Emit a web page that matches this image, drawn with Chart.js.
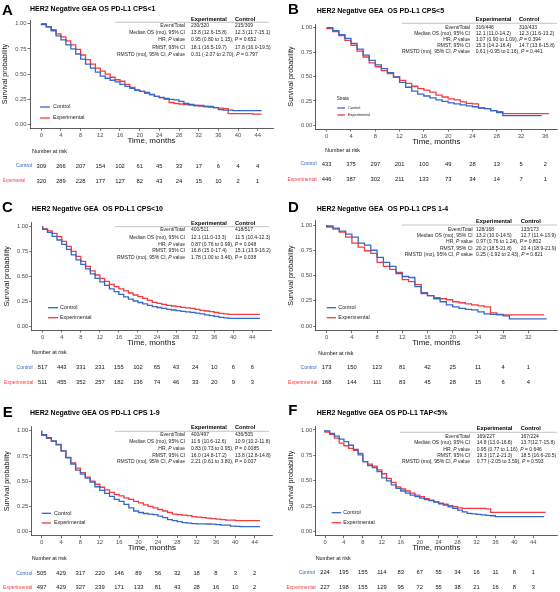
<!DOCTYPE html>
<html>
<head>
<meta charset="utf-8">
<script src="https://cdn.jsdelivr.net/npm/chart.js@4.4.1/dist/chart.umd.min.js"></script>
<style>
  body { margin: 0; background: #fff; width: 560px; height: 592px; position: relative; overflow: hidden; }
  canvas { position: absolute; }
</style>
</head>
<body>
<script>
// ---- data ----
const rowLabels = ['Event/Total', 'Median OS (mo), 95% CI', 'HR, P value', 'RMST, 95% CI', 'RMSTD (mo), 95% CI, P value'];

// A: CPS<1
const titleA = 'HER2 Negative GEA OS PD-L1 CPS<1';
const ticksA = [0, 4, 8, 12, 16, 20, 24, 28, 32, 36, 40, 44];
const survCtrlA = [1.00,0.99,0.97,0.93,0.88,0.84,0.79,0.75,0.70,0.65,0.60,0.56,0.52,0.48,0.46,0.44,0.425,0.40,0.38,0.36,0.34,0.33,0.32,0.30,0.28,0.27,0.26,0.25,0.245,0.23,0.21,0.20,0.19,0.19,0.18,0.18,0.17,0.15,0.145,0.145,0.14,0.14,0.14,0.14,0.14];
const survExpA = [1.00,1.00,0.97,0.94,0.90,0.87,0.83,0.79,0.745,0.69,0.645,0.60,0.56,0.53,0.50,0.47,0.445,0.43,0.40,0.37,0.345,0.33,0.31,0.295,0.28,0.265,0.25,0.22,0.21,0.205,0.20,0.195,0.19,0.185,0.18,0.175,0.17,0.165,0.16,0.11,0.11,0.11,0.11,0.11,0.105];
const endA = [44.8, 44.8];
const riskCtrlA = [309, 266, 207, 154, 102, 61, 45, 33, 17, 6, 4, 4];
const riskExpA = [320, 289, 228, 177, 127, 82, 43, 24, 15, 10, 2, 1];
const statsExpA = ['230/320', '13.8 (12.6-15.8)', '0.95 (0.80 to 1.15), P = 0.652', '18.1 (16.5-19.7)', '0.31 (-2.07 to 2.70), P = 0.797'];
const statsCtrlA = ['215/309', '12.3 (11.7-15.1)', '', '17.8 (16.0-19.5)', ''];

// B: CPS<5
const titleB = 'HER2 Negative GEA  OS PD-L1 CPS<5';
const ticksB = [0, 4, 8, 12, 16, 20, 24, 28, 32, 36];
const survCtrlB = [1.00,1.00,0.97,0.93,0.89,0.84,0.78,0.72,0.665,0.62,0.58,0.54,0.495,0.44,0.39,0.35,0.32,0.30,0.28,0.26,0.245,0.23,0.22,0.21,0.20,0.19,0.175,0.17,0.15,0.13,0.10,0.10,0.10,0.10,0.10,0.10];
const survExpB = [1.00,0.99,0.96,0.92,0.87,0.82,0.76,0.70,0.64,0.60,0.56,0.53,0.495,0.46,0.43,0.40,0.375,0.36,0.34,0.31,0.29,0.27,0.26,0.24,0.225,0.22,0.18,0.17,0.15,0.14,0.12,0.12,0.12,0.12,0.12,0.12,0.12];
const endB = [35.4, 36.6];
const riskCtrlB = [433, 375, 297, 201, 100, 49, 28, 13, 5, 2];
const riskExpB = [446, 387, 302, 211, 133, 73, 34, 14, 7, 1];
const statsExpB = ['316/446', '12.1 (11.0-14.2)', '1.07 (0.90 to 1.09), P = 0.394', '15.3 (14.2-16.4)', '0.61 (-0.95 to 2.16), P = 0.441'];
const statsCtrlB = ['310/433', '12.3 (11.6-13.2)', '', '14.7 (13.6-15.8)', ''];

// C: CPS<10
const titleC = 'HER2 Negative GEA  OS PD-L1 CPS<10';
const ticksC = [0, 4, 8, 12, 16, 20, 24, 28, 32, 36, 40, 44];
const survCtrlC = [1.00,0.97,0.94,0.90,0.863,0.82,0.77,0.715,0.665,0.62,0.575,0.525,0.48,0.445,0.41,0.375,0.347,0.32,0.295,0.272,0.253,0.238,0.225,0.21,0.197,0.188,0.18,0.17,0.163,0.157,0.15,0.145,0.14,0.132,0.124,0.115,0.107,0.10,0.09,0.085,0.08,0.08,0.08,0.08,0.08,0.08];
const survExpC = [1.00,0.975,0.955,0.93,0.897,0.85,0.80,0.75,0.70,0.65,0.60,0.555,0.513,0.48,0.45,0.42,0.397,0.375,0.355,0.333,0.313,0.296,0.28,0.26,0.24,0.23,0.22,0.21,0.203,0.197,0.19,0.185,0.18,0.17,0.16,0.153,0.147,0.138,0.13,0.125,0.12,0.12,0.12,0.12,0.12,0.12];
const endC = [45.6, 45.6];
const riskCtrlC = [517, 443, 331, 231, 155, 102, 65, 43, 24, 10, 6, 6];
const riskExpC = [511, 455, 352, 257, 182, 136, 74, 46, 33, 20, 9, 3];
const statsExpC = ['400/511', '12.1 (11.0-13.3)', '0.87 (0.76 to 0.99), P = 0.048', '16.8 (15.0-17.4)', '1.78 (1.00 to 3.46), P = 0.038'];
const statsCtrlC = ['418/517', '11.5 (10.4-12.3)', '', '15.1 (13.9-16.2)', ''];

// D: CPS 1-4
const titleD = 'HER2 Negative GEA  OS PD-L1 CPS 1-4';
const ticksD = [0, 4, 8, 12, 16, 20, 24, 28, 32];
const survCtrlD = [1.00,0.99,0.97,0.94,0.91,0.88,0.82,0.80,0.75,0.68,0.63,0.59,0.52,0.49,0.48,0.39,0.33,0.30,0.27,0.24,0.21,0.19,0.175,0.165,0.16,0.14,0.12,0.115,0.115,0.10,0.07,0.07,0.07,0.07,0.07];
const survExpD = [1.00,0.98,0.96,0.93,0.88,0.82,0.78,0.745,0.72,0.63,0.59,0.56,0.53,0.46,0.44,0.41,0.32,0.30,0.28,0.27,0.26,0.24,0.23,0.22,0.21,0.20,0.19,0.13,0.11,0.11,0.11,0.11,0.11,0.11,0.11];
const endD = [34.9, 34.5];
const riskCtrlD = [173, 150, 123, 81, 42, 25, 11, 4, 1];
const riskExpD = [168, 144, 111, 83, 45, 28, 15, 6, 4];
const statsExpD = ['128/168', '13.2 (10.0-14.5)', '0.97 (0.76 to 1.24), P = 0.802', '20.2 (18.5-21.8)', '0.25 (-1.92 to 2.43), P = 0.821'];
const statsCtrlD = ['133/173', '12.7 (11.4-13.9)', '', '20.4 (18.9-21.9)', ''];

// E: CPS 1-9
const titleE = 'HER2 Negative GEA OS PD-L1 CPS 1-9';
const ticksE = [0, 4, 8, 12, 16, 20, 24, 28, 32, 36, 40, 44];
const survCtrlE = [1.00,0.96,0.93,0.90,0.86,0.80,0.73,0.67,0.61,0.57,0.53,0.49,0.445,0.41,0.38,0.35,0.32,0.30,0.27,0.235,0.205,0.19,0.18,0.175,0.17,0.155,0.14,0.12,0.11,0.10,0.09,0.085,0.08,0.078,0.077,0.076,0.075,0.07,0.066,0.065,0.055,0.052,0.05,0.05,0.05,0.05];
const survExpE = [1.00,0.955,0.925,0.895,0.865,0.80,0.735,0.68,0.63,0.585,0.54,0.50,0.47,0.44,0.415,0.39,0.37,0.355,0.335,0.32,0.30,0.285,0.265,0.25,0.235,0.22,0.205,0.19,0.175,0.17,0.165,0.16,0.15,0.145,0.14,0.135,0.13,0.125,0.12,0.115,0.115,0.11,0.11,0.11,0.11,0.11];
const endE = [45.1, 45.1];
const riskCtrlE = [505, 429, 317, 220, 146, 89, 56, 32, 18, 8, 3, 2];
const riskExpE = [497, 429, 327, 239, 171, 133, 81, 43, 28, 16, 10, 2];
const statsExpE = ['400/497', '11.6 (10.6-12.6)', '0.83 (0.73 to 0.95), P = 0.0085', '16.0 (14.8-17.2)', '2.21 (0.61 to 3.80), P = 0.007'];
const statsCtrlE = ['436/505', '10.9 (10.2-11.8)', '', '13.8 (12.8-14.8)', ''];

// F: TAP<5%
const titleF = 'HER2 Negative GEA OS PD-L1 TAP<5%';
const ticksF = [0, 4, 8, 12, 16, 20, 24, 28, 32, 36, 40, 44];
const survCtrlF = [1.00,0.99,0.967,0.94,0.91,0.885,0.85,0.81,0.755,0.69,0.65,0.63,0.59,0.53,0.50,0.46,0.426,0.40,0.38,0.36,0.345,0.33,0.315,0.305,0.29,0.275,0.262,0.245,0.23,0.213,0.195,0.18,0.175,0.17,0.165,0.16,0.157,0.148,0.148,0.148,0.148,0.148,0.148,0.148,0.148,0.148,0.148];
const survExpF = [1.00,0.98,0.957,0.92,0.87,0.845,0.82,0.80,0.77,0.69,0.665,0.645,0.607,0.57,0.525,0.485,0.44,0.42,0.40,0.38,0.36,0.345,0.325,0.31,0.295,0.28,0.27,0.255,0.246,0.235,0.23,0.23,0.23,0.23,0.23,0.225,0.19,0.19,0.19,0.19,0.19,0.19,0.19,0.19,0.19,0.19,0.19];
const endF = [46.3, 46.6];
const riskCtrlF = [224, 195, 155, 114, 83, 67, 55, 34, 16, 11, 8, 1];
const riskExpF = [227, 198, 155, 129, 95, 72, 55, 38, 21, 16, 8, 3];
const statsExpF = ['169/227', '14.8 (13.0-16.8)', '0.95 (0.77 to 1.16), P = 0.646', '19.3 (17.2-21.3)', '0.77 (-2.05 to 3.59), P = 0.593'];
const statsCtrlF = ['167/224', '13.7(12.7-15.8)', '', '18.5 (16.6-20.5)', ''];

// ---- look ----
const FONT = '"Liberation Sans", Arial, Helvetica, sans-serif';
const BLUE = '#3468c8';
const RED = '#f53a42';
const X_AXIS_H = 17.1;
const Y_AXIS_W = 28.8;
Chart.defaults.font.family = FONT;

// layout of each panel (pixels inside its own canvas)
const panels = [
  { letter: 'A', ox: 0, oy: 0, h: 195, letterPos: [2, 15], titlePos: [30, 9],
    plot: { left: 30, right: 273, top: 20, bottom: 128.3 }, y01: [124.7, 23.7], xmap: [41.3, 257.7, 44],
    stats: { head: 19, line: [115, 269, 22.3], rows: [25.7, 33, 40.1, 47.3, 54.4], lab: 185, exp: 191, ctrl: 235 },
    legend: { ys: [107, 118], x0: 40, x1: 50, tx: 53, font: 5.4 },
    risk: { x: 32, head: 152, rows: [166, 181], labs: [32, 25], expW: 22 },
    d: { title: titleA, ticks: ticksA, ctrl: survCtrlA, exp: survExpA, end: endA, rc: riskCtrlA, re: riskExpA, se: statsExpA, sc: statsCtrlA } },
  { letter: 'B', ox: 280, oy: 0, h: 195, letterPos: [8, 13.5], titlePos: [36.7, 11.3],
    plot: { left: 35.7, right: 277, top: 24, bottom: 129 }, y01: [125.3, 27.7], xmap: [46.7, 265.3, 36],
    stats: { head: 19.7, line: [121.7, 277, 23.3], rows: [27.7, 33.7, 39.7, 45.7, 51.7], lab: 190, exp: 195.7, ctrl: 239 },
    legend: { ys: [108, 115], x0: 57.3, x1: 65, tx: 68, font: 3.8, title: 'Strata', titleX: 56.7, titleY: 99 },
    risk: { x: 45, head: 150.7, rows: [164, 179.3], labs: [36.5, 36.7] },
    d: { title: titleB, ticks: ticksB, ctrl: survCtrlB, exp: survExpB, end: endB, rc: riskCtrlB, re: riskExpB, se: statsExpB, sc: statsCtrlB } },
  { letter: 'C', ox: 0, oy: 195, h: 195, letterPos: [2, 16.7], titlePos: [31.7, 14],
    plot: { left: 31.7, right: 271, top: 27.6, bottom: 135 }, y01: [131.3, 31.3], xmap: [42.7, 252.3, 44],
    stats: { head: 28.3, line: [115, 269, 31.7], rows: [35, 42.3, 49.3, 56, 63], lab: 185, exp: 191, ctrl: 235 },
    legend: { ys: [112.7, 122.7], x0: 48, x1: 58, tx: 60, font: 5.4 },
    risk: { x: 31.7, head: 157.7, rows: [172.7, 187.3], labs: [32.7, 33.3] },
    d: { title: titleC, ticks: ticksC, ctrl: survCtrlC, exp: survExpC, end: endC, rc: riskCtrlC, re: riskExpC, se: statsExpC, sc: statsCtrlC } },
  { letter: 'D', ox: 280, oy: 195, h: 195, letterPos: [8, 16.7], titlePos: [36.7, 14],
    plot: { left: 35.7, right: 277, top: 25.3, bottom: 135.7 }, y01: [131, 30], xmap: [46.7, 248.3, 32],
    stats: { head: 26.7, line: [121.7, 277, 30], rows: [34.3, 40.7, 47, 53.3, 59.3], lab: 192.7, exp: 196, ctrl: 240.7 },
    legend: { ys: [112.7, 122.7], x0: 46.7, x1: 56, tx: 58.3, font: 5.4 },
    risk: { x: 38.3, head: 158.3, rows: [172.7, 187.3], labs: [36.7, 37.3] },
    d: { title: titleD, ticks: ticksD, ctrl: survCtrlD, exp: survExpD, end: endD, rc: riskCtrlD, re: riskExpD, se: statsExpD, sc: statsCtrlD } },
  { letter: 'E', ox: 0, oy: 390, h: 202, letterPos: [2.7, 26.7], titlePos: [30, 23.3],
    plot: { left: 31.7, right: 272, top: 36.7, bottom: 145.7 }, y01: [141.7, 40.7], xmap: [41.7, 254.7, 44],
    stats: { head: 37.7, line: [115, 269, 41.3], rows: [45, 52, 58.7, 65.3, 71.7], lab: 185, exp: 191, ctrl: 235 },
    legend: { ys: [123.3, 133], x0: 41.7, x1: 51, tx: 54, font: 5.4 },
    risk: { x: 31.7, head: 169, rows: [183.3, 197.3], labs: [32.3, 32.3] },
    d: { title: titleE, ticks: ticksE, ctrl: survCtrlE, exp: survExpE, end: endE, rc: riskCtrlE, re: riskExpE, se: statsExpE, sc: statsCtrlE } },
  { letter: 'F', ox: 280, oy: 390, h: 202, letterPos: [8.3, 25], titlePos: [36.7, 22.7],
    plot: { left: 35.7, right: 277, top: 36, bottom: 145.7 }, y01: [141.7, 40], xmap: [45, 253.3, 44],
    stats: { head: 38.3, line: [120, 277, 42.3], rows: [46.7, 52.7, 59.3, 65.7, 71.7], lab: 190, exp: 196.7, ctrl: 240.7 },
    legend: { ys: [122.7, 132.7], x0: 51.7, x1: 61, tx: 63.3, font: 5.4 },
    risk: { x: 35.7, head: 169, rows: [182.7, 197.3], labs: [35, 35.7] },
    d: { title: titleF, ticks: ticksF, ctrl: survCtrlF, exp: survExpF, end: endF, rc: riskCtrlF, re: riskExpF, se: statsExpF, sc: statsCtrlF } }
];

// survival at month i, held until the next month; last point is the end of follow-up
function kmPoints(vals, end) {
  const pts = vals.map((v, i) => ({ x: i, y: v }));
  pts.push({ x: end, y: vals[vals.length - 1] });
  return pts;
}

// text with an italic P
function richText(ctx, text, x, y, align, size) {
  const parts = text.split(/(\bP\b)/);
  const fontOf = t => (t === 'P' ? 'italic ' : '') + size + 'px ' + FONT;
  let w = 0;
  parts.forEach(t => { ctx.font = fontOf(t); w += ctx.measureText(t).width; });
  let cx = align === 'right' ? x - w : x;
  ctx.textAlign = 'left';
  parts.forEach(t => { ctx.font = fontOf(t); ctx.fillText(t, cx, y); cx += ctx.measureText(t).width; });
}

function decor(p) {
  const d = p.d;
  return {
    id: 'decor' + p.letter,
    afterDraw(chart) {
      const ctx = chart.ctx;
      const xs = chart.scales.x;
      ctx.save();
      ctx.fillStyle = '#000';
      ctx.textAlign = 'left';
      ctx.textBaseline = 'alphabetic';
      ctx.font = 'bold 15px ' + FONT;
      ctx.fillText(p.letter, p.letterPos[0], p.letterPos[1]);
      ctx.textBaseline = 'middle';
      ctx.font = 'bold 7px ' + FONT;
      ctx.fillText(d.title, p.titlePos[0], p.titlePos[1]);

      // summary table
      const s = p.stats;
      ctx.font = 'bold 5.7px ' + FONT;
      ctx.fillText('Experimental', s.exp, s.head);
      ctx.fillText('Control', s.ctrl, s.head);
      ctx.strokeStyle = '#b5b5b5';
      ctx.lineWidth = 0.8;
      ctx.beginPath();
      ctx.moveTo(s.line[0], s.line[2]);
      ctx.lineTo(s.line[1], s.line[2]);
      ctx.stroke();
      ctx.fillStyle = '#222';
      rowLabels.forEach((lab, i) => {
        richText(ctx, lab, s.lab, s.rows[i], 'right', 5);
        richText(ctx, d.se[i], s.exp, s.rows[i], 'left', 5);
        if (d.sc[i]) richText(ctx, d.sc[i], s.ctrl, s.rows[i], 'left', 5);
      });

      // legend inside the plot
      const lg = p.legend;
      ctx.textAlign = 'left';
      if (lg.title) {
        ctx.fillStyle = '#222';
        ctx.font = '4.5px ' + FONT;
        ctx.fillText(lg.title, lg.titleX, lg.titleY);
      }
      chart.data.datasets.forEach((ds, i) => {
        ctx.strokeStyle = ds.borderColor;
        ctx.lineWidth = 1.3;
        ctx.beginPath();
        ctx.moveTo(lg.x0, lg.ys[i]);
        ctx.lineTo(lg.x1, lg.ys[i]);
        ctx.stroke();
        ctx.fillStyle = '#222';
        ctx.font = lg.font + 'px ' + FONT;
        ctx.fillText(ds.label, lg.tx, lg.ys[i]);
      });

      // number at risk
      const r = p.risk;
      ctx.fillStyle = '#111';
      ctx.font = '5.4px ' + FONT;
      ctx.fillText('Number at risk', r.x, r.head);
      ctx.textAlign = 'right';
      ctx.font = '5px ' + FONT;
      ctx.fillStyle = BLUE;
      ctx.fillText('Control', r.labs[0], r.rows[0]);
      ctx.fillStyle = RED;
      if (r.expW) ctx.fillText('Experimental', r.labs[1], r.rows[1], r.expW);
      else ctx.fillText('Experimental', r.labs[1], r.rows[1]);
      ctx.textAlign = 'center';
      ctx.fillStyle = '#111';
      ctx.font = '5.8px ' + FONT;
      d.ticks.forEach((t, i) => {
        const px = xs.getPixelForValue(t);
        ctx.fillText(String(d.rc[i]), px, r.rows[0]);
        ctx.fillText(String(d.re[i]), px, r.rows[1]);
      });
      ctx.restore();
    }
  };
}

function makeChart(p) {
  const d = p.d;
  const cv = document.createElement('canvas');
  cv.width = 280;
  cv.height = p.h;
  cv.style.left = p.ox + 'px';
  cv.style.top = p.oy + 'px';
  document.body.appendChild(cv);

  const pl = p.plot;
  const ppm = (p.xmap[1] - p.xmap[0]) / p.xmap[2];
  const ppu = p.y01[0] - p.y01[1];
  const padL = pl.left - Y_AXIS_W;
  const axisGrid = { display: true, drawOnChartArea: false, drawTicks: true, tickLength: 2.5, color: '#333', lineWidth: 0.7 };
  const axisBorder = { display: true, color: '#333', width: 0.8 };

  new Chart(cv, {
    type: 'line',
    data: {
      datasets: [
        { label: 'Control', data: kmPoints(d.ctrl, d.end[0]), borderColor: BLUE, borderWidth: 1.3, pointRadius: 0, stepped: 'after', fill: false },
        { label: 'Experimental', data: kmPoints(d.exp, d.end[1]), borderColor: RED, borderWidth: 1.3, pointRadius: 0, stepped: 'after', fill: false }
      ]
    },
    options: {
      responsive: false,
      animation: false,
      devicePixelRatio: 1,
      layout: { padding: { left: padL, top: pl.top, right: 280 - pl.right, bottom: p.h - pl.bottom - X_AXIS_H } },
      plugins: { legend: { display: false }, tooltip: { enabled: false } },
      scales: {
        x: {
          type: 'linear',
          min: -(p.xmap[0] - pl.left) / ppm,
          max: (pl.right - p.xmap[0]) / ppm,
          afterBuildTicks: s => { s.ticks = d.ticks.map(v => ({ value: v })); },
          afterFit: s => { s.height = X_AXIS_H; },
          ticks: { font: { size: 5.8 }, color: '#4d4d4d', padding: 1, maxRotation: 0, autoSkip: false, callback: v => String(v) },
          grid: axisGrid,
          border: axisBorder,
          title: { display: true, text: 'Time, months', font: { size: 8 }, color: '#111', padding: 0 }
        },
        y: {
          type: 'linear',
          min: -(pl.bottom - p.y01[0]) / ppu,
          max: 1 + (p.y01[1] - pl.top) / ppu,
          afterBuildTicks: s => { s.ticks = [0, 0.25, 0.5, 0.75, 1].map(v => ({ value: v })); },
          afterFit: s => { s.width = Y_AXIS_W; },
          ticks: { font: { size: 5.8 }, color: '#4d4d4d', padding: 1, callback: v => Number(v).toFixed(2) },
          grid: axisGrid,
          border: axisBorder,
          title: { display: true, text: 'Survival probability', font: { size: 7.2 }, color: '#111', padding: 0 }
        }
      }
    },
    plugins: [decor(p)]
  });
}

panels.forEach(makeChart);
</script>
</body>
</html>
